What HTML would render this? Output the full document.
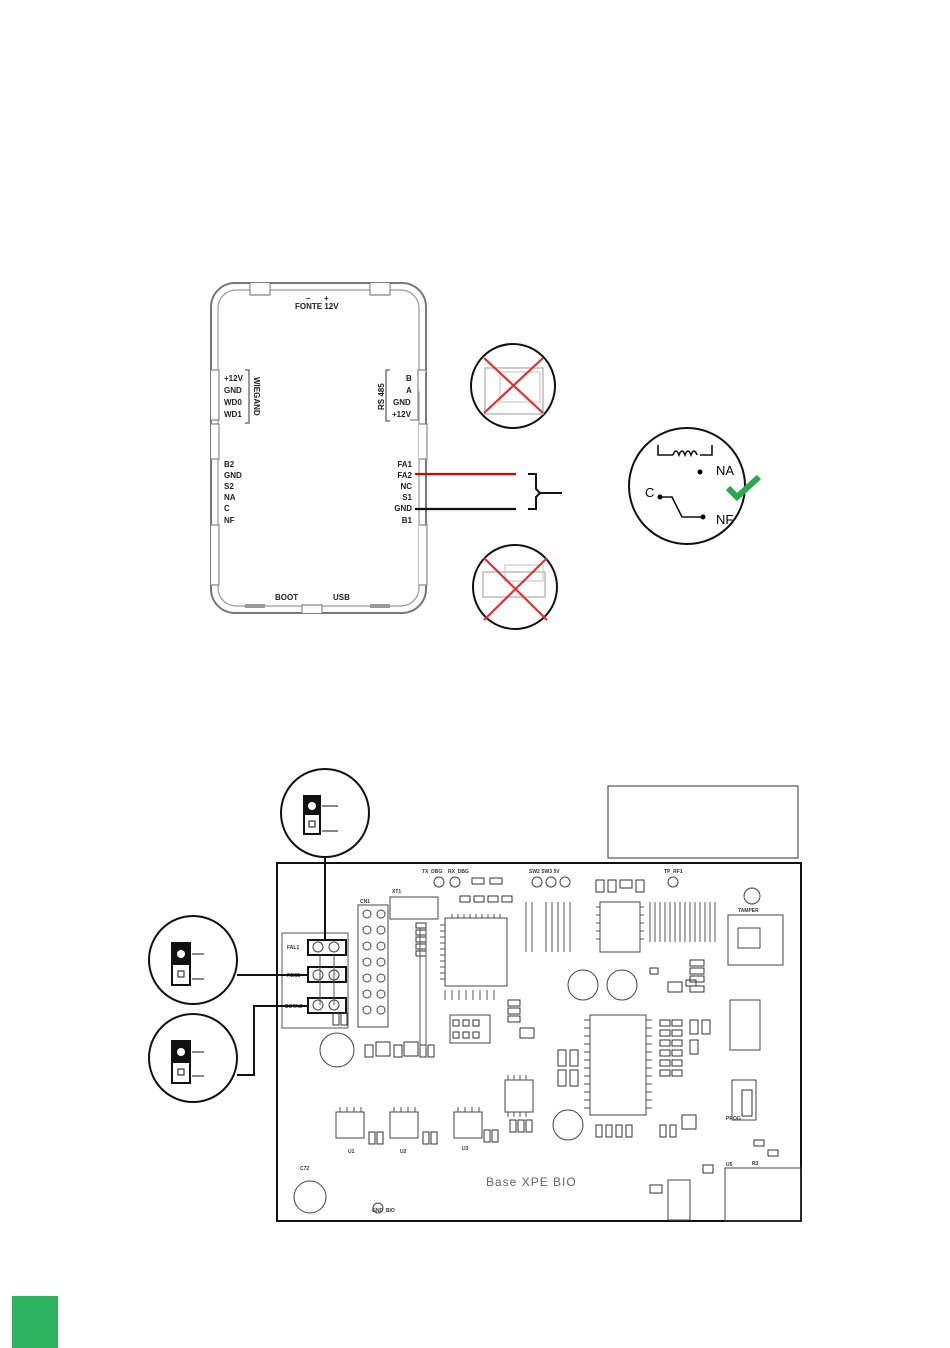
<!DOCTYPE html>
<html><head><meta charset="utf-8"><style>
body{margin:0;background:#fff}
svg{display:block}
text{font-family:"Liberation Sans",sans-serif}
</style></head><body>
<svg width="950" height="1348" viewBox="0 0 950 1348" xmlns="http://www.w3.org/2000/svg">
<!-- enclosure -->
<rect x="211" y="283" width="215" height="330" rx="24" fill="none" stroke="#777" stroke-width="2"/>
<rect x="218" y="290" width="201" height="316" rx="18" fill="none" stroke="#999" stroke-width="1.2"/>
<g fill="#fff" stroke="#888" stroke-width="1.2">
<path d="M250 283 v12 h20 v-12"/><path d="M370 283 v12 h20 v-12"/>
<path d="M211 370 h8 v50 h-8"/><path d="M426 370 h-8 v50 h-8"/>
<path d="M211 424 h8 v35 h-8"/><path d="M419 424 h8 v35 h-8"/>
<path d="M211 525 h8 v60 h-8"/><path d="M419 525 h8 v60 h-8"/>
<path d="M302 613 v-8 h20 v8"/>
</g>
<rect x="245" y="604" width="20" height="4" fill="#999"/><rect x="370" y="604" width="20" height="4" fill="#999"/>
<g font-size="8" font-weight="bold" fill="#222">
<text x="306" y="301">–</text><text x="324" y="301">+</text>
<text x="295" y="309">FONTE 12V</text>
<text x="224" y="381">+12V</text><text x="224" y="393">GND</text><text x="224" y="405">WD0</text><text x="224" y="417">WD1</text>
<text x="406" y="381">B</text><text x="406" y="393">A</text>
<text x="393" y="405">GND</text><text x="392" y="417">+12V</text>
<text x="224" y="467">B2</text><text x="224" y="478">GND</text><text x="224" y="489">S2</text><text x="224" y="500">NA</text><text x="224" y="511">C</text><text x="224" y="523">NF</text>
<text x="412" y="467" text-anchor="end">FA1</text><text x="412" y="478" text-anchor="end">FA2</text><text x="412" y="489" text-anchor="end">NC</text><text x="412" y="500" text-anchor="end">S1</text><text x="412" y="511" text-anchor="end">GND</text><text x="412" y="523" text-anchor="end">B1</text>
<text x="275" y="600">BOOT</text><text x="333" y="600">USB</text>
<text transform="translate(254,377) rotate(90)">WIEGAND</text>
<text transform="translate(384,410) rotate(-90)">RS 485</text>
</g>
<path d="M245 370 h4 v53 h-4 M390 370 h-4 v51 h4" stroke="#333" fill="none"/>
<line x1="415" y1="474" x2="516" y2="474" stroke="#d00" stroke-width="2.2"/>
<line x1="415" y1="509" x2="516" y2="509" stroke="#111" stroke-width="2.2"/>
<path d="M528 474 h8 v15 l4 4 l-4 4 v12 h-8 M540 493 h22" stroke="#111" stroke-width="2" fill="none"/>
<!-- crossed circles -->
<circle cx="513" cy="386" r="42" fill="#fff" stroke="#111" stroke-width="2"/>
<rect x="485" y="368" width="58" height="46" fill="none" stroke="#bbb" stroke-width="1.5"/>
<rect x="500" y="372" width="40" height="30" fill="none" stroke="#ccc" stroke-width="1.2"/>
<path d="M484 358 L543 413 M543 358 L484 413" stroke="#e03030" stroke-width="2.2"/>
<circle cx="515" cy="587" r="42" fill="#fff" stroke="#111" stroke-width="2"/>
<rect x="483" y="572" width="62" height="25" fill="none" stroke="#bbb" stroke-width="1.5"/>
<rect x="505" y="565" width="38" height="16" fill="none" stroke="#ccc" stroke-width="1.2"/>
<path d="M484 558 L547 620 M547 558 L484 620" stroke="#e03030" stroke-width="2.2"/>
<!-- relay -->
<circle cx="687" cy="486" r="58" fill="#fff" stroke="#111" stroke-width="2"/>
<path d="M658 445 v10 h15 M700 455 h12 v-10" stroke="#111" stroke-width="1.6" fill="none"/>
<path d="M673 455 q3 -8 6 0 q3 -8 6 0 q3 -8 6 0 q3 -8 6 0" stroke="#111" stroke-width="1.6" fill="none"/>
<circle cx="700" cy="472" r="2.5"/><circle cx="660" cy="497" r="2.5"/><circle cx="703" cy="517" r="2.5"/>
<path d="M660 497 h12 l10 20 h20" stroke="#111" stroke-width="1.6" fill="none"/>
<text x="716" y="475" font-size="13">NA</text><text x="645" y="497" font-size="13">C</text><text x="716" y="524" font-size="13">NF</text>
<path d="M728 488 l9 9 l22 -20" stroke="#2ea84f" stroke-width="6" fill="none"/>
<!-- info box -->
<rect x="608" y="786" width="190" height="72" fill="none" stroke="#333" stroke-width="1"/>
<!-- PCB -->
<rect x="277" y="863" width="524" height="358" fill="none" stroke="#111" stroke-width="2"/>
<rect x="282" y="933" width="66" height="95" fill="none" stroke="#555"/>
<g fill="none" stroke="#111" stroke-width="2">
<rect x="308" y="940" width="38" height="15"/><rect x="308" y="967" width="38" height="15"/><rect x="308" y="998" width="38" height="15"/>
</g>
<g font-size="5" font-weight="bold" fill="#333">
<text x="287" y="949">FAL1</text><text x="287" y="977">REC1</text><text x="285" y="1008">BOTAO</text>
<text x="422" y="873">TX_DBG</text><text x="448" y="873">RX_DBG</text><text x="529" y="873">SW2 SW3 5V</text><text x="664" y="873">TP_RF1</text>
<text x="392" y="893">XT1</text><text x="360" y="903">CN1</text><text x="738" y="912">TAMPER</text>
<text x="300" y="1170">C72</text><text x="372" y="1212">GND_BIO</text>
<text x="348" y="1153">U1</text><text x="400" y="1153">U2</text><text x="462" y="1150">U3</text>
<text x="726" y="1120">PROG</text><text x="752" y="1165">R3</text><text x="726" y="1166">U5</text>
</g>
<g fill="none" stroke="#444">
<circle cx="318" cy="947" r="5"/><circle cx="334" cy="947" r="5"/><circle cx="318" cy="975" r="5"/><circle cx="334" cy="975" r="5"/><circle cx="318" cy="1005" r="5"/><circle cx="334" cy="1005" r="5"/>
<rect x="358" y="905" width="30" height="122"/>
<rect x="390" y="897" width="48" height="22"/>
<rect x="445" y="918" width="62" height="68"/>
<rect x="600" y="902" width="40" height="50"/>
<rect x="590" y="1015" width="56" height="100"/>
<rect x="728" y="915" width="55" height="50"/>
<rect x="738" y="928" width="22" height="20"/>
<circle cx="752" cy="896" r="8"/>
<circle cx="583" cy="985" r="15"/><circle cx="622" cy="985" r="15"/>
<circle cx="337" cy="1050" r="17"/><circle cx="568" cy="1125" r="15"/><circle cx="310" cy="1197" r="16"/>
<rect x="450" y="1015" width="40" height="28"/><rect x="505" y="1080" width="28" height="32"/>
<rect x="336" y="1112" width="28" height="26"/><rect x="390" y="1112" width="28" height="26"/><rect x="454" y="1112" width="28" height="26"/>
<rect x="730" y="1000" width="30" height="50"/><rect x="732" y="1080" width="24" height="40"/>
<rect x="725" y="1168" width="76" height="53"/><rect x="668" y="1180" width="22" height="40"/>
<circle cx="439" cy="882" r="5"/><circle cx="455" cy="882" r="5"/><circle cx="537" cy="882" r="5"/><circle cx="551" cy="882" r="5"/><circle cx="565" cy="882" r="5"/><circle cx="673" cy="882" r="5"/><circle cx="378" cy="1208" r="5"/>
<circle cx="367" cy="914" r="4"/><circle cx="381" cy="914" r="4"/><circle cx="367" cy="930" r="4"/><circle cx="381" cy="930" r="4"/><circle cx="367" cy="946" r="4"/><circle cx="381" cy="946" r="4"/><circle cx="367" cy="962" r="4"/><circle cx="381" cy="962" r="4"/><circle cx="367" cy="978" r="4"/><circle cx="381" cy="978" r="4"/><circle cx="367" cy="994" r="4"/><circle cx="381" cy="994" r="4"/><circle cx="367" cy="1010" r="4"/><circle cx="381" cy="1010" r="4"/>
</g>
<!-- small pads -->
<g fill="none" stroke="#333" stroke-width="1">
<rect x="416" y="923" width="10" height="5"/><rect x="416" y="930" width="10" height="5"/><rect x="416" y="937" width="10" height="5"/><rect x="416" y="944" width="10" height="5"/><rect x="416" y="951" width="10" height="5"/>
<rect x="460" y="896" width="10" height="6"/><rect x="474" y="896" width="10" height="6"/><rect x="488" y="896" width="10" height="6"/><rect x="502" y="896" width="10" height="6"/>
<rect x="472" y="878" width="12" height="6"/><rect x="490" y="878" width="12" height="6"/>
<rect x="596" y="880" width="8" height="12"/><rect x="608" y="880" width="8" height="12"/><rect x="620" y="880" width="12" height="8"/><rect x="636" y="880" width="8" height="12"/>
<rect x="365" y="1045" width="8" height="12"/><rect x="376" y="1042" width="14" height="14"/><rect x="394" y="1045" width="8" height="12"/><rect x="404" y="1042" width="14" height="14"/><rect x="420" y="1045" width="6" height="12"/><rect x="428" y="1045" width="6" height="12"/>
<rect x="453" y="1020" width="6" height="6"/><rect x="463" y="1020" width="6" height="6"/><rect x="473" y="1020" width="6" height="6"/><rect x="453" y="1032" width="6" height="6"/><rect x="463" y="1032" width="6" height="6"/><rect x="473" y="1032" width="6" height="6"/>
<rect x="508" y="1000" width="12" height="6"/><rect x="508" y="1008" width="12" height="6"/><rect x="508" y="1016" width="12" height="6"/><rect x="520" y="1028" width="14" height="10"/>
<rect x="558" y="1050" width="8" height="16"/><rect x="570" y="1050" width="8" height="16"/><rect x="558" y="1070" width="8" height="16"/><rect x="570" y="1070" width="8" height="16"/>
<rect x="510" y="1120" width="6" height="12"/><rect x="518" y="1120" width="6" height="12"/><rect x="526" y="1120" width="6" height="12"/>
<rect x="596" y="1125" width="6" height="12"/><rect x="606" y="1125" width="6" height="12"/><rect x="616" y="1125" width="6" height="12"/><rect x="626" y="1125" width="6" height="12"/>
<rect x="660" y="1125" width="6" height="12"/><rect x="670" y="1125" width="6" height="12"/><rect x="682" y="1115" width="14" height="14"/>
<rect x="660" y="1020" width="10" height="6"/><rect x="660" y="1030" width="10" height="6"/><rect x="660" y="1040" width="10" height="6"/><rect x="660" y="1050" width="10" height="6"/><rect x="660" y="1060" width="10" height="6"/><rect x="660" y="1070" width="10" height="6"/>
<rect x="672" y="1020" width="10" height="6"/><rect x="672" y="1030" width="10" height="6"/><rect x="672" y="1040" width="10" height="6"/><rect x="672" y="1050" width="10" height="6"/><rect x="672" y="1060" width="10" height="6"/><rect x="672" y="1070" width="10" height="6"/>
<rect x="690" y="1020" width="8" height="14"/><rect x="690" y="1040" width="8" height="14"/><rect x="702" y="1020" width="8" height="14"/>
<rect x="668" y="982" width="14" height="10"/><rect x="686" y="980" width="10" height="6"/>
<rect x="742" y="1090" width="10" height="26"/><rect x="754" y="1140" width="10" height="6"/><rect x="768" y="1150" width="10" height="6"/>
<rect x="650" y="1185" width="12" height="8"/><rect x="703" y="1165" width="10" height="8"/>
<rect x="369" y="1132" width="6" height="12"/><rect x="377" y="1132" width="6" height="12"/><rect x="423" y="1132" width="6" height="12"/><rect x="431" y="1132" width="6" height="12"/><rect x="484" y="1130" width="6" height="12"/><rect x="492" y="1130" width="6" height="12"/>
<rect x="333" y="1013" width="6" height="12"/><rect x="341" y="1013" width="6" height="12"/>
<rect x="650" y="968" width="8" height="6"/><rect x="690" y="960" width="14" height="6"/><rect x="690" y="968" width="14" height="6"/><rect x="690" y="976" width="14" height="6"/><rect x="690" y="986" width="14" height="6"/>
</g>
<g stroke="#555" stroke-width="1" fill="none">
<path d="M650 902 v40 M655 902 v40 M660 902 v40 M665 902 v40 M670 902 v40 M675 902 v40 M680 902 v40 M685 902 v40"/>
<path d="M690 902 v40 M695 902 v40 M700 902 v40 M705 902 v40 M710 902 v40 M715 902 v40"/>
<path d="M546 902 v50 M552 902 v50 M558 902 v50 M564 902 v50 M570 902 v50"/>
<path d="M526 902 v50 M532 902 v50"/>
<path d="M445 990 v10 M452 990 v10 M459 990 v10 M466 990 v10 M473 990 v10 M480 990 v10 M487 990 v10 M494 990 v10"/>
<path d="M452 914 v4 M458 914 v4 M464 914 v4 M470 914 v4 M476 914 v4 M482 914 v4 M488 914 v4 M494 914 v4 M500 914 v4"/>
<path d="M440 925 h5 M440 931 h5 M440 937 h5 M440 943 h5 M440 949 h5 M440 955 h5 M440 961 h5 M440 967 h5 M440 973 h5 M440 979 h5"/>
<path d="M584 1020 h6 M584 1028 h6 M584 1036 h6 M584 1044 h6 M584 1052 h6 M584 1060 h6 M584 1068 h6 M584 1076 h6 M584 1084 h6 M584 1092 h6 M584 1100 h6 M584 1108 h6"/>
<path d="M646 1020 h6 M646 1028 h6 M646 1036 h6 M646 1044 h6 M646 1052 h6 M646 1060 h6 M646 1068 h6 M646 1076 h6 M646 1084 h6 M646 1092 h6 M646 1100 h6 M646 1108 h6"/>
<path d="M596 907 h4 M596 915 h4 M596 923 h4 M596 931 h4 M596 939 h4 M640 907 h4 M640 915 h4 M640 923 h4 M640 931 h4 M640 939 h4"/>
<path d="M340 1112 v-5 M347 1112 v-5 M354 1112 v-5 M361 1112 v-5 M394 1112 v-5 M401 1112 v-5 M408 1112 v-5 M415 1112 v-5 M458 1112 v-5 M465 1112 v-5 M472 1112 v-5 M479 1112 v-5"/>
<path d="M508 1080 v-5 M514 1080 v-5 M520 1080 v-5 M526 1080 v-5 M508 1112 v5 M514 1112 v5 M520 1112 v5 M526 1112 v5"/>
<path d="M420 928 v120 M426 928 v120 M320 955 v50 M334 955 v50"/>
</g>
<text x="486" y="1186" font-size="12" fill="#666" letter-spacing="1">Base XPE BIO</text>
<!-- callouts -->
<g stroke="#111" stroke-width="2" fill="none">
<line x1="325" y1="857" x2="325" y2="940"/>
<path d="M237 975 H308"/><path d="M237 1075 h17 V1006 h54"/>
</g>
<g>
<circle cx="325" cy="813" r="44" fill="#fff" stroke="#111" stroke-width="2"/>
<rect x="303" y="795" width="18" height="40" fill="#111"/><rect x="305" y="815" width="14" height="18" fill="#fff"/>
<circle cx="312" cy="806" r="4" fill="#fff"/><rect x="309" y="821" width="6" height="6" fill="none" stroke="#111"/>
<path d="M322 806 h16 M322 831 h16" stroke="#111"/>
<circle cx="193" cy="960" r="44" fill="#fff" stroke="#111" stroke-width="2"/>
<rect x="171" y="942" width="20" height="44" fill="#111"/><rect x="173" y="965" width="16" height="19" fill="#fff"/>
<circle cx="181" cy="954" r="4" fill="#fff"/><rect x="178" y="971" width="6" height="6" fill="none" stroke="#111"/>
<path d="M192 954 h12 M192 979 h12" stroke="#111"/>
<circle cx="193" cy="1058" r="44" fill="#fff" stroke="#111" stroke-width="2"/>
<rect x="171" y="1040" width="20" height="44" fill="#111"/><rect x="173" y="1063" width="16" height="19" fill="#fff"/>
<circle cx="181" cy="1052" r="4" fill="#fff"/><rect x="178" y="1069" width="6" height="6" fill="none" stroke="#111"/>
<path d="M192 1052 h12 M192 1076 h12" stroke="#111"/>
</g>
<rect x="12" y="1296" width="46" height="52" fill="#2db35e"/>
</svg>
</body></html>
